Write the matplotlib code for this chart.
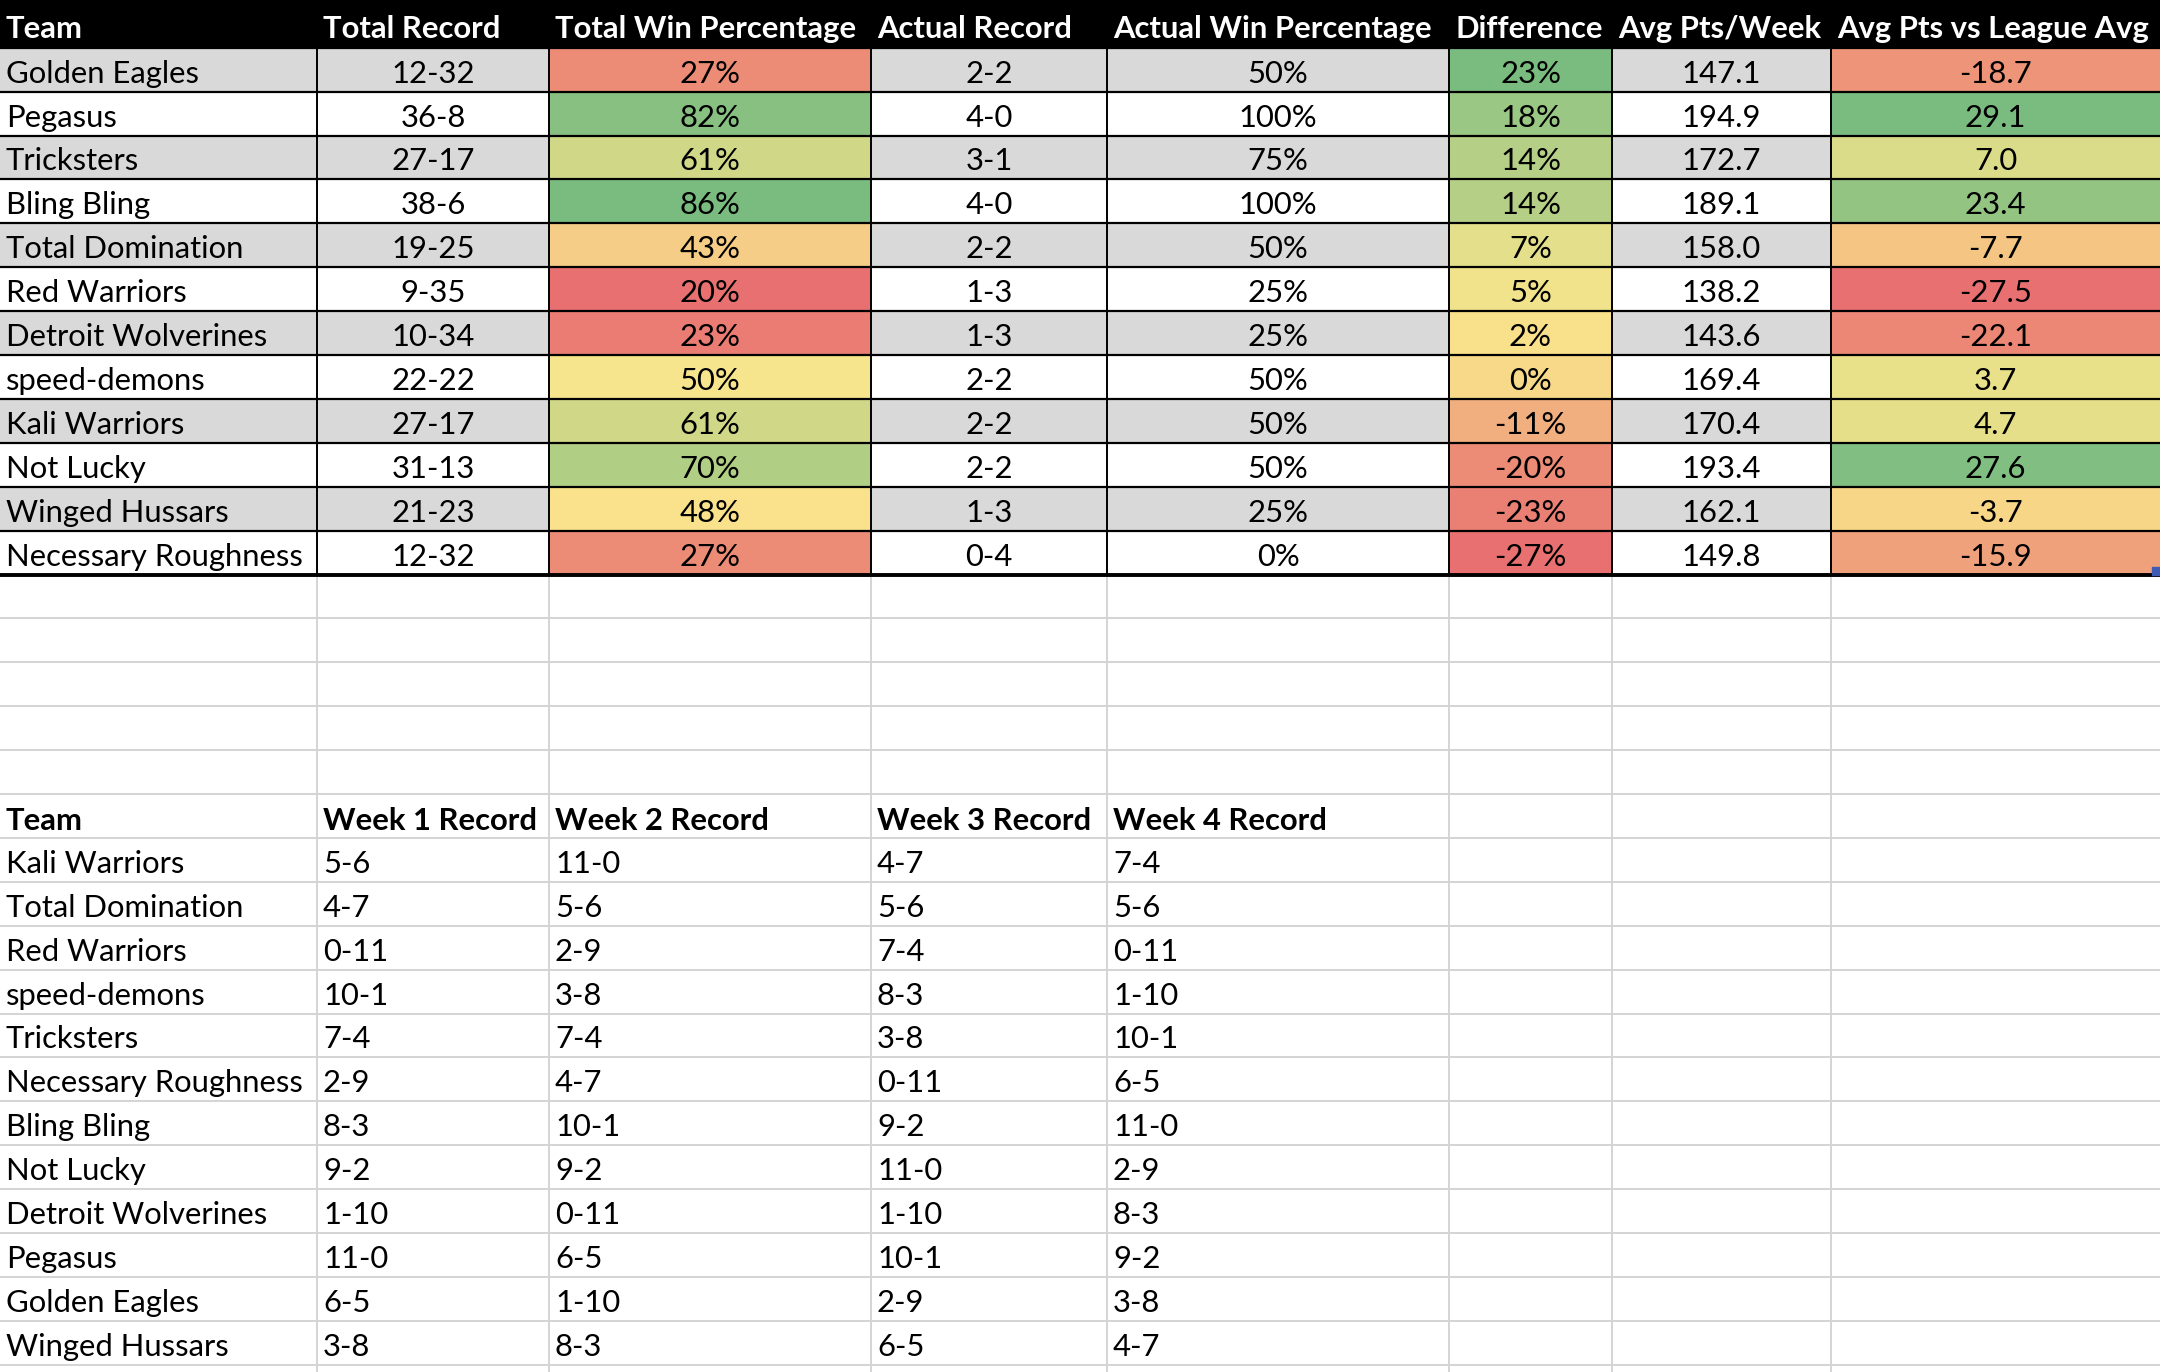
import numpy as np
import matplotlib
matplotlib.use('Agg')
import matplotlib.pyplot as plt
from matplotlib.patches import Rectangle
from matplotlib.colors import LinearSegmentedColormap, TwoSlopeNorm

plt.rcParams['font.family'] = ['Lato', 'DejaVu Sans']

# top table
headers = ['Team', 'Total Record', 'Total Win Percentage', 'Actual Record',
           'Actual Win Percentage', 'Difference', 'Avg Pts/Week', 'Avg Pts vs League Avg']
teams = ['Golden Eagles', 'Pegasus', 'Tricksters', 'Bling Bling', 'Total Domination',
         'Red Warriors', 'Detroit Wolverines', 'speed-demons', 'Kali Warriors',
         'Not Lucky', 'Winged Hussars', 'Necessary Roughness']
total_record = ['12-32', '36-8', '27-17', '38-6', '19-25', '9-35', '10-34', '22-22',
                '27-17', '31-13', '21-23', '12-32']
total_win_pct = [27, 82, 61, 86, 43, 20, 23, 50, 61, 70, 48, 27]
actual_record = ['2-2', '4-0', '3-1', '4-0', '2-2', '1-3', '1-3', '2-2', '2-2', '2-2', '1-3', '0-4']
actual_win_pct = [50, 100, 75, 100, 50, 25, 25, 50, 50, 50, 25, 0]
difference = [23, 18, 14, 14, 7, 5, 2, 0, -11, -20, -23, -27]
avg_pts = [147.1, 194.9, 172.7, 189.1, 158.0, 138.2, 143.6, 169.4, 170.4, 193.4, 162.1, 149.8]
avg_vs_league = [-18.7, 29.1, 7.0, 23.4, -7.7, -27.5, -22.1, 3.7, 4.7, 27.6, -3.7, -15.9]

# weekly table
week_headers = ['Team', 'Week 1 Record', 'Week 2 Record', 'Week 3 Record', 'Week 4 Record']
week_teams = ['Kali Warriors', 'Total Domination', 'Red Warriors', 'speed-demons', 'Tricksters',
              'Necessary Roughness', 'Bling Bling', 'Not Lucky', 'Detroit Wolverines',
              'Pegasus', 'Golden Eagles', 'Winged Hussars']
week1 = ['5-6', '4-7', '0-11', '10-1', '7-4', '2-9', '8-3', '9-2', '1-10', '11-0', '6-5', '3-8']
week2 = ['11-0', '5-6', '2-9', '3-8', '7-4', '4-7', '10-1', '9-2', '0-11', '6-5', '1-10', '8-3']
week3 = ['4-7', '5-6', '7-4', '8-3', '3-8', '0-11', '9-2', '11-0', '1-10', '10-1', '2-9', '6-5']
week4 = ['7-4', '5-6', '0-11', '1-10', '10-1', '6-5', '11-0', '2-9', '8-3', '9-2', '3-8', '4-7']

W, H = 2160, 1372
col_x = [0, 317, 549, 871, 1107, 1449, 1612, 1831, 2160]
top, rh = 47.7, 43.9
fs = 22.3
dy = 4  # text sits a little below the row middle
grid = '#d4d4d4'

cmap = LinearSegmentedColormap.from_list('ryg', ['#e87070', '#fae68c', '#7abc80'])

def scale_colors(vals):
    v = np.array(vals, dtype=float)
    norm = TwoSlopeNorm(vcenter=np.percentile(v, 50), vmin=v.min(), vmax=v.max())
    return [cmap(norm(x)) for x in v]

fig = plt.figure(figsize=(W / 100, H / 100), dpi=100)
ax = fig.add_axes([0, 0, 1, 1])
ax.set_xlim(0, W)
ax.set_ylim(H, 0)
ax.axis('off')

# light sheet gridlines below the top table
n_rows = int((H - top) / rh) + 1
for k in range(12, n_rows + 1):
    ax.plot([0, W], [top + k * rh] * 2, color=grid, lw=1.4, zorder=1)
for x in col_x[1:-1]:
    ax.plot([x, x], [top + 12 * rh, H], color=grid, lw=1.4, zorder=1)

# header
ax.add_patch(Rectangle((0, 0), W, top, color='black', zorder=2))
for j, h in enumerate(headers):
    ax.text(col_x[j] + 6, top / 2 + dy + 1, h, color='white', fontsize=fs, fontweight='bold',
            va='center', ha='left', zorder=5)

fills = {2: scale_colors(total_win_pct), 5: scale_colors(difference), 7: scale_colors(avg_vs_league)}
columns = [teams, total_record, [f'{v}%' for v in total_win_pct], actual_record,
           [f'{v}%' for v in actual_win_pct], [f'{v}%' for v in difference],
           [f'{v:.1f}' for v in avg_pts], [f'{v:.1f}' for v in avg_vs_league]]

for i in range(len(teams)):
    y0 = top + i * rh
    base = '#d9d9d9' if i % 2 == 0 else 'white'
    for j in range(len(columns)):
        c = fills[j][i] if j in fills else base
        ax.add_patch(Rectangle((col_x[j], y0), col_x[j + 1] - col_x[j], rh, color=c, zorder=2))
        if j == 0:
            ax.text(col_x[j] + 6, y0 + rh / 2 + dy, columns[j][i], fontsize=fs,
                    va='center', ha='left', zorder=5)
        else:
            ax.text((col_x[j] + col_x[j + 1]) / 2, y0 + rh / 2 + dy, columns[j][i], fontsize=fs,
                    va='center', ha='center', zorder=5)

# black borders of top table
bottom = top + len(teams) * rh
for i in range(len(teams)):
    ax.plot([0, W], [top + i * rh] * 2, color='black', lw=1.6, zorder=3)
ax.plot([0, W], [bottom, bottom], color='black', lw=2.8, zorder=3)
for x in col_x[1:-1]:
    ax.plot([x, x], [top, bottom], color='black', lw=1.4, zorder=3)
ax.add_patch(Rectangle((W - 8, bottom - 8), 8, 8, color='#3f5bb5', zorder=4))

# weekly table
wtop = top + 17 * rh
wcols = [week_teams, week1, week2, week3, week4]
for j, h in enumerate(week_headers):
    ax.text(col_x[j] + 6, wtop + rh / 2 + dy + 1, h, fontsize=fs, fontweight='bold',
            va='center', ha='left', zorder=5)
for i in range(len(week_teams)):
    y0 = wtop + (i + 1) * rh
    for j, col in enumerate(wcols):
        ax.text(col_x[j] + 6, y0 + rh / 2 + dy, col[i], fontsize=fs,
                va='center', ha='left', zorder=5)

fig.savefig('out.png', dpi=100)
